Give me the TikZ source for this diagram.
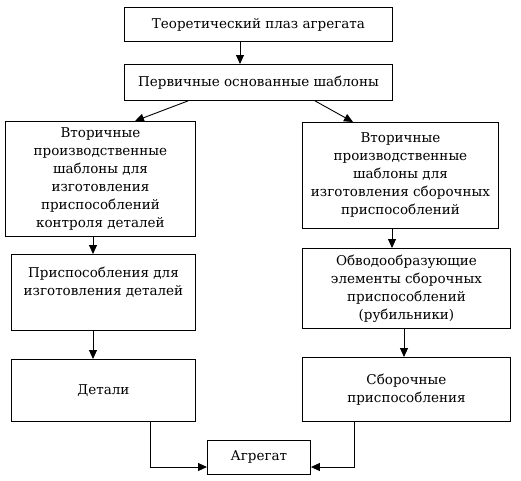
\documentclass[tikz,border=0pt]{standalone}
\usepackage{fontspec}
\setmainfont{DejaVu Serif}
\usetikzlibrary{arrows.meta}
\begin{document}
\begin{tikzpicture}[x=1pt,y=-1pt,
  box/.style={draw,line width=0.9pt,rectangle,anchor=north west,inner sep=0pt,align=center,
    font=\fontsize{13.5}{18}\selectfont},
  arr/.style={line width=0.9pt,-{Triangle[length=9pt,width=8pt]}},
  ln/.style={line width=0.9pt}]
\useasboundingbox (0,0) rectangle (521,480);
\node[box,minimum width=268pt,minimum height=34pt] (b1) at (124,7) {Теоретический плаз агрегата};
\node[box,minimum width=268pt,minimum height=36pt] (b2) at (124,64) {Первичные основанные шаблоны};
\node[box,minimum width=190pt,minimum height=115pt] (b3) at (5,121) {Вторичные\\производственные\\шаблоны для\\изготовления\\приспособлений\\контроля деталей};
\node[box,minimum width=196pt,minimum height=106pt] (b4) at (302,122) {Вторичные\\производственные\\шаблоны для\\изготовления сборочных\\приспособлений};
\node[box,minimum width=184pt,minimum height=76pt] (b5) at (11,254) {Приспособления для\\изготовления деталей\\[4pt]};
\node[box,minimum width=208pt,minimum height=80pt] (b6) at (302,248) {Обводообразующие\\элементы сборочных\\приспособлений\\(рубильники)};
\node[box,minimum width=184pt,minimum height=62pt] (b7) at (11,359) {Детали};
\node[box,minimum width=208pt,minimum height=64pt] (b8) at (302,357) {Сборочные\\приспособления};
\node[box,minimum width=103pt,minimum height=34pt] (b9) at (207,440) {Агрегат};
\coordinate (c7) at (150,467);
\coordinate (c8) at (354,467);
\draw[arr] (b1.south -| 240,0) -- (b2.north -| 240,0);
\draw[arr] (b2.south -| 188,0) -- (b3.north -| 135,0);
\draw[arr] (b2.south -| 315,0) -- (b4.north -| 353,0);
\draw[arr] (b3.south -| 93,0) -- (b5.north -| 93,0);
\draw[arr] (b4.south -| 392,0) -- (b6.north -| 392,0);
\draw[arr] (b5.south -| 93,0) -- (b7.north -| 93,0);
\draw[arr] (b6.south -| 404,0) -- (b8.north -| 404,0);
\draw[arr] (b7.south -| c7) -- (c7) -- (b9.west |- c7);
\draw[arr] (b8.south -| c8) -- (c8) -- (b9.east |- c8);
\end{tikzpicture}
\end{document}
